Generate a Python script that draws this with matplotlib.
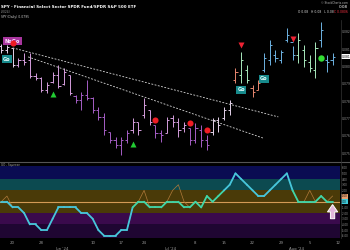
import matplotlib
matplotlib.use("Agg")
import matplotlib.pyplot as plt
from matplotlib.patches import FancyArrow
from matplotlib.collections import LineCollection
from matplotlib.transforms import blended_transform_factory
import numpy as np

# ---------------- data ----------------
bar_idx = list(range(-2, 57))
highs = [0.08131, 0.08125, 0.08108, 0.08050, 0.08079, 0.08079, 0.07963, 0.07940, 0.07911, 0.07969,
         0.08009, 0.07992, 0.07951, 0.07836, 0.07853, 0.07923, 0.07824, 0.07767, 0.07732, 0.07622,
         0.07593, 0.07593, 0.07634, 0.07703, 0.07680, 0.07819, 0.07749, 0.07663, 0.07634, 0.07709,
         0.07720, 0.07703, 0.07680, 0.07645, 0.07674, 0.07663, 0.07605, 0.07703, 0.07709, 0.07767,
         0.07807, 0.07992, 0.08084, 0.08009, 0.07894, 0.07923, 0.08079, 0.08154, 0.08096, 0.08096,
         0.08223, 0.08119, 0.08194, 0.08125, 0.08067, 0.08142, 0.08258, 0.08067, 0.08079]
lows = [0.08079, 0.08079, 0.07998, 0.07998, 0.08009, 0.07934, 0.07923, 0.07853, 0.07847, 0.07905,
        0.07876, 0.07894, 0.07836, 0.07790, 0.07749, 0.07807, 0.07732, 0.07691, 0.07605, 0.07559,
        0.07530, 0.07489, 0.07559, 0.07616, 0.07605, 0.07703, 0.07663, 0.07587, 0.07564, 0.07616,
        0.07651, 0.07593, 0.07622, 0.07547, 0.07559, 0.07535, 0.07518, 0.07605, 0.07622, 0.07691,
        0.07720, 0.07905, 0.07905, 0.07905, 0.07824, 0.07865, 0.07969, 0.08009, 0.08027, 0.08021,
        0.08142, 0.08038, 0.08021, 0.07998, 0.07969, 0.07934, 0.08113, 0.07969, 0.08009]
opens = [0.08119, 0.08096, 0.08108, 0.08009, 0.08038, 0.08038, 0.07946, 0.07934, 0.07865, 0.07911,
         0.07951, 0.07900, 0.07951, 0.07830, 0.07807, 0.07836, 0.07819, 0.07749, 0.07709, 0.07622,
         0.07576, 0.07547, 0.07576, 0.07634, 0.07680, 0.07720, 0.07749, 0.07663, 0.07616, 0.07616,
         0.07703, 0.07680, 0.07645, 0.07645, 0.07576, 0.07634, 0.07576, 0.07622, 0.07691, 0.07703,
         0.07749, 0.07923, 0.07951, 0.07980, 0.07876, 0.07865, 0.07980, 0.08038, 0.08067, 0.08038,
         0.08154, 0.08142, 0.08067, 0.08096, 0.08027, 0.07980, 0.08154, 0.08038, 0.08038]
closes = [0.08096, 0.08113, 0.08009, 0.08038, 0.08027, 0.07946, 0.07934, 0.07865, 0.07894, 0.07951,
          0.07888, 0.07969, 0.07847, 0.07807, 0.07836, 0.07819, 0.07749, 0.07709, 0.07634, 0.07576,
          0.07547, 0.07576, 0.07616, 0.07680, 0.07634, 0.07778, 0.07680, 0.07616, 0.07605, 0.07691,
          0.07680, 0.07634, 0.07663, 0.07576, 0.07645, 0.07576, 0.07547, 0.07691, 0.07663, 0.07749,
          0.07790, 0.07969, 0.08038, 0.07923, 0.07853, 0.07905, 0.08050, 0.08125, 0.08050, 0.08084,
          0.08183, 0.08067, 0.08154, 0.08038, 0.07992, 0.08108, 0.08212, 0.08027, 0.08056]
bar_phase = list("PPPWWWWWWWWWWNNNNNNNNNNWWWWNNWWWWNNNNPPPPAggAAGGGGGGggggGGG")

osc = [0, 0, -1, -1, -2, -4, -4, -5, -5, -3, -1, -1, -1, -1, -2, -2, -3, -5, -6, -6,
       -6, -5, -5, -1, 0, 0, -1, -1, -1, 0, 0, 0, -1, -1, 0, -1, 1, 0, 1, 2,
       3, 5, 4, 3, 2, 1, 1, 2, 3, 4, 5, 2, 0, 0, 0, 0, 1, 0, 0]
osc_raw = [0, 1, -1, -1, -2, -4, -4, -5, -5, -3, -1, -1, -1, -1, -2, -2, -3, -5, -6, -6,
           -6, -5, -5, -1, 0, 2, -1, -1, -1, 0, 2, 3, 0, -1, 0, -1, 1, 0, 1, 2,
           3, 5, 4, 3, 2, 1, 1, 2, 3, 4, 5, 2, 0, 0, 2, 0, 1, 0, 1]
osc_green_spans = [(21, 37), (49, 56)]

trend_upper_x = [0, 46.5]
trend_upper_y = [0.08108, 0.07709]
trend_lower_x = [2.7, 43.8]
trend_lower_y = [0.08056, 0.07587]

go_tri_idx = [7, 21]
nogo_circle_idx = [0, 25, 31, 34]
nogo_tri_idx = [40, 49]
go_circle_idx = [54]
go_label_idx = [-1, 40, 44]
nogo_label_idx = [0]

day_ticks = [0, 5, 14, 19, 23, 32, 37, 42, 47, 52, 57]
day_labels = ['20', '28', '10', '17', '24', '8', '15', '22', '29', '5', '12']
month_ticks = [9, 28, 50]
month_labels = ["Jun '24", "Jul '24", "Aug '24"]
price_ticks = [0.0750, 0.0760, 0.0770, 0.0780, 0.0790, 0.0800, 0.0810, 0.0820]
osc_ticks = list(range(-6, 7))

# ---------------- style ----------------
phase_colors = {'P': '#e4d2ea', 'W': '#d49ddc', 'N': '#a65ec6', 'A': '#e8876f',
                'g': '#a8e8bc', 'G': '#6db2e2'}
W, H = 350, 250


def rect(x0, y0, x1, y1):
    return [x0 / W, 1 - y1 / H, (x1 - x0) / W, (y1 - y0) / H]


fig = plt.figure(figsize=(3.5, 2.5), dpi=100, facecolor='black')
ax1 = fig.add_axes(rect(0, 0, 340, 161))
ax2 = fig.add_axes(rect(0, 166, 340, 238))
for ax in (ax1, ax2):
    ax.set_facecolor('black')
    for s in ax.spines.values():
        s.set_visible(False)
    ax.set_xlim(-2.22, 57.3)

ax1.set_ylim(0.07454, 0.08385)
ax2.set_ylim(-6.4, 6.3)

# ---------------- price panel ----------------
x = np.array(bar_idx, dtype=float)
cols = [phase_colors[p] for p in bar_phase]
tw = 0.38
ax1.vlines(x, lows, highs, colors=cols, lw=0.7)
ax1.hlines(opens, x - tw, x, colors=cols, lw=0.7)
ax1.hlines(closes, x, x + tw, colors=cols, lw=0.7)

dash = dict(color='#d8d8d8', lw=0.6, dashes=(2.2, 1.8))
ax1.plot(trend_upper_x, trend_upper_y, **dash)
ax1.plot(trend_lower_x, trend_lower_y, **dash)

pos = {b: k for k, b in enumerate(bar_idx)}
off_small = 0.0003
off_big = 0.00064
ax1.plot(go_tri_idx, [lows[pos[b]] - off_big for b in go_tri_idx], '^', color='#22cc33',
         ms=4.2, mec='none', zorder=5)
ax1.plot(nogo_circle_idx, [highs[pos[b]] + off_small for b in nogo_circle_idx], 'o',
         color='#ee1c24', ms=4.4, mec='none', zorder=6)
ax1.plot(nogo_tri_idx, [highs[pos[b]] + 0.00042 for b in nogo_tri_idx], 'v',
         color='#ee2233', ms=4.2, mec='none', zorder=5)
ax1.plot(go_circle_idx, [lows[pos[b]] - off_big for b in go_circle_idx], 'o',
         color='#33dd33', ms=4.6, mec='none', zorder=5)

for b in go_label_idx:
    ax1.text(b, lows[pos[b]] - 0.00038, 'Go', ha='center', va='center', fontsize=3.6,
             color='#e8ffff', fontweight='bold',
             bbox=dict(boxstyle='square,pad=0.3', fc='#178a8c', ec='none'), zorder=4)
for b in nogo_label_idx:
    ax1.text(b, highs[pos[b]] + 0.00038, 'NoGo', ha='center', va='center', fontsize=3.6,
             color='#ffe8ff', fontweight='bold',
             bbox=dict(boxstyle='square,pad=0.3', fc='#a8359e', ec='none'), zorder=4)

ax1.yaxis.tick_right()
ax1.set_yticks(price_ticks)
ax1.set_yticklabels([f'{v:.3f}' for v in price_ticks])
ax1.tick_params(axis='y', length=0, pad=1.2, labelsize=2.2, labelcolor='#9a9a9a')
ax1.set_xticks([])
tr1 = blended_transform_factory(ax1.transAxes, ax1.transData)
ax1.text(1.004, closes[-1], f'{closes[-1]:.3f}', transform=tr1, fontsize=2.2, color='black',
         va='center', ha='left', bbox=dict(boxstyle='square,pad=0.15', fc='white', ec='none'),
         clip_on=False)

# ---------------- oscillator panel ----------------
band_edges = [(4, 6.3, '#0a0c52'), (2, 4, '#0c4a50'), (-2, 2, '#4a3a08'),
              (-4, -2, '#3a0a4c'), (-6.4, -4, '#1f0632')]
for lo, hi, c in band_edges:
    ax2.axhspan(lo, hi, color=c, lw=0)
ax2.axhline(0, color='#d39a55', lw=0.8)
ax2.plot(x, osc_raw, color='#b07a3a', lw=0.5)
pts = np.column_stack([x, osc])
segs = np.stack([pts[:-1], pts[1:]], axis=1)
seg_cols = []
for k in range(len(segs)):
    b = bar_idx[k]
    green = any(a <= b < e for a, e in osc_green_spans)
    seg_cols.append('#3fd6a8' if green else '#45c6dc')
ax2.add_collection(LineCollection(segs, colors=seg_cols, lw=1.3, capstyle='round',
                                  joinstyle='round'))

ax2.add_patch(FancyArrow(56, -3.0, 0, 2.5, width=0.75, head_width=1.8, head_length=1.3,
                         length_includes_head=True, fc='#e2b6dc', ec='white', lw=0.7,
                         zorder=6))

ax2.yaxis.tick_right()
ax2.set_yticks(osc_ticks)
ax2.set_yticklabels([f'{v:.2f}' for v in osc_ticks])
ax2.tick_params(axis='y', length=0, pad=1.2, labelsize=1.9, labelcolor='#9a9a9a')
tr2 = blended_transform_factory(ax2.transAxes, ax2.transData)
ax2.text(1.004, osc_raw[-1], f'{osc_raw[-1]:.2f}', transform=tr2, fontsize=1.9, color='black',
         va='center', ha='left', bbox=dict(boxstyle='square,pad=0.2', fc='#e8a070', ec='none'),
         clip_on=False)
ax2.text(1.004, osc[-1], f'{osc[-1]:.2f}', transform=tr2, fontsize=1.9, color='black',
         va='center', ha='left', bbox=dict(boxstyle='square,pad=0.2', fc='#40c8d8', ec='none'),
         clip_on=False)

ax2.set_xticks(day_ticks)
ax2.set_xticklabels(day_labels)
ax2.tick_params(axis='x', length=0, pad=2.2, labelsize=2.8, labelcolor='#9a9a9a')
for t, lab in zip(month_ticks, month_labels):
    ax2.annotate(lab, xy=(t - 0.4, 0), xycoords=('data', 'axes fraction'),
                 xytext=(0, -6.6), textcoords='offset points', ha='center', va='top',
                 fontsize=2.8, color='#9a9a9a', annotation_clip=False)

# ---------------- chrome ----------------
fig.add_artist(plt.Line2D([0, 1], [1 - 161.5 / H] * 2, color='#555555', lw=0.8))
fig.add_artist(plt.Line2D([341 / W] * 2, [1 - 238 / H, 1 - 20 / H], color='#333333', lw=0.5))
fig.text(1 / W, 1 - 7 / H, 'SPY - Financial Select Sector SPDR Fund/SPDR S&P 500 ETF',
         fontsize=2.9, color='white', fontweight='bold', va='center', ha='left')
fig.text(1 / W, 1 - 12 / H, '(2024)', fontsize=2.1, color='#9a9a9a', va='center')
fig.text(1 / W, 1 - 17 / H, 'SPY (Daily) 0.0795', fontsize=2.2, color='#cccccc', va='center')
fig.text(348 / W, 1 - 2.5 / H, '\u00a9 StockCharts.com', fontsize=2.0, color='#bbbbbb',
         va='center', ha='right')
fig.text(348 / W, 1 - 7 / H, '0.08', fontsize=3.0, color='white', va='center', ha='right')
fig.text(334 / W, 1 - 12 / H, 'O 0.08   H 0.08   L 0.08', fontsize=2.2, color='#dddddd',
         va='center', ha='right')
fig.text(348 / W, 1 - 12 / H, 'C 0.0806', fontsize=2.2, color='#ff3344', va='center', ha='right')
fig.text(1 / W, 1 - 165 / H, 'GO - Squeeze', fontsize=2.0, color='#aaaaaa', va='center')

fig.savefig('out.png', dpi=100, facecolor='black')
